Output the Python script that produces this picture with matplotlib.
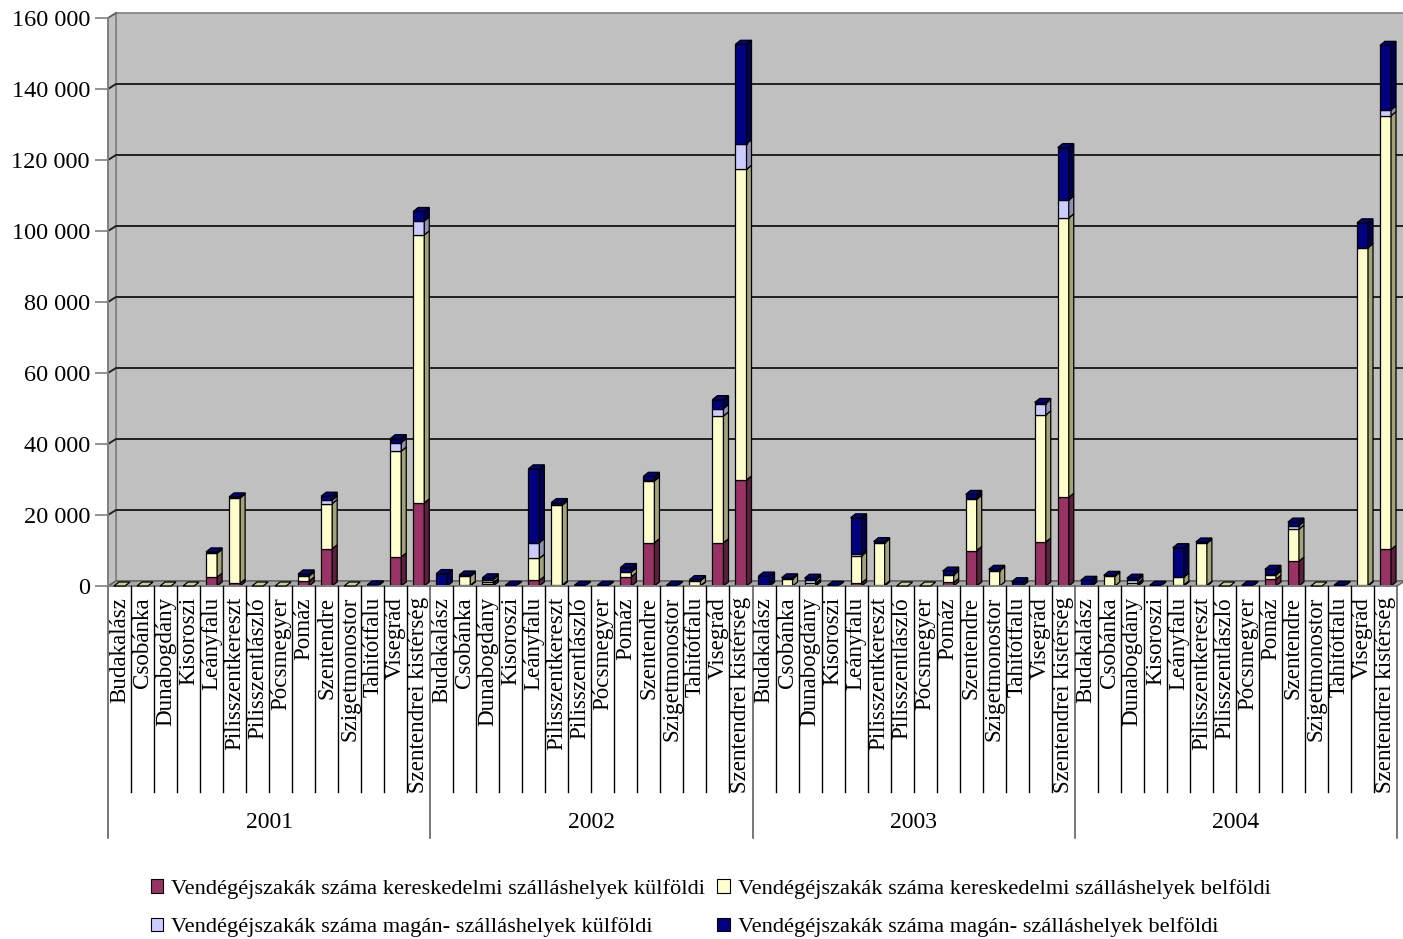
import matplotlib
matplotlib.use('Agg')
import matplotlib.pyplot as plt
from matplotlib.patches import Polygon, Rectangle, Patch
import numpy as np

plt.rcParams['font.family'] = ['Liberation Serif', 'DejaVu Serif']

years = ['2001', '2002', '2003', '2004']
places = ['Budakalász', 'Csobánka', 'Dunabogdány', 'Kisoroszi', 'Leányfalu',
          'Pilisszentkereszt', 'Pilisszentlászló', 'Pócsmegyer', 'Pomáz',
          'Szentendre', 'Szigetmonostor', 'Tahitótfalu', 'Visegrád',
          'Szentendrei kistérség']

# vendégéjszakák, évenként 14 település
ker_kulf = [
    [0, 0, 0, 0, 2500, 800, 0, 0, 1400, 10500, 0, 0, 8200, 23400],
    [0, 200, 700, 0, 1600, 300, 0, 0, 2600, 12200, 0, 100, 12200, 29900],
    [100, 0, 300, 0, 900, 300, 0, 0, 1000, 10000, 0, 0, 12400, 25000],
    [100, 0, 400, 0, 300, 200, 0, 0, 1900, 7000, 0, 0, 200, 10300],
]
ker_belf = [
    [0, 0, 0, 0, 6700, 24000, 0, 0, 1400, 12700, 0, 0, 29800, 75500],
    [0, 2500, 300, 0, 6200, 22500, 0, 0, 1400, 17400, 0, 1400, 35700, 87500],
    [0, 2000, 500, 0, 7600, 11800, 0, 0, 2100, 14400, 4300, 0, 35800, 78700],
    [0, 2700, 400, 0, 2200, 11800, 0, 0, 1200, 9000, 0, 0, 95100, 122200],
]
magan_kulf = [
    [0, 0, 0, 0, 0, 0, 0, 0, 0, 1000, 0, 0, 2400, 3900],
    [0, 0, 800, 0, 4400, 0, 0, 0, 0, 300, 0, 0, 2100, 7200],
    [300, 0, 800, 0, 400, 0, 0, 0, 0, 400, 0, 0, 3200, 5000],
    [0, 0, 800, 0, 0, 0, 0, 0, 300, 1000, 0, 0, 0, 1600],
]
magan_belf = [
    [0, 0, 0, 0, 400, 300, 0, 0, 600, 1100, 0, 300, 1100, 2700],
    [3500, 400, 500, 200, 20800, 700, 200, 200, 1200, 1000, 200, 300, 2500, 28000],
    [2400, 300, 600, 200, 10300, 400, 0, 0, 1100, 1000, 400, 1200, 300, 14800],
    [1500, 300, 600, 200, 8300, 400, 0, 200, 1300, 1000, 0, 200, 7000, 18200],
]

series_names = ['Vendégéjszakák száma kereskedelmi szálláshelyek külföldi',
                'Vendégéjszakák száma kereskedelmi szálláshelyek belföldi',
                'Vendégéjszakák száma magán- szálláshelyek külföldi',
                'Vendégéjszakák száma magán- szálláshelyek belföldi']
front_colors = ['#993366', '#FFFFCC', '#CCCCFF', '#000080']
side_colors = ['#5c1f3d', '#a3a37a', '#9090b0', '#000050']

W, H = 1403, 939
fig = plt.figure(figsize=(W / 100, H / 100), dpi=100)
# front plane of the 3D box, in pixels
x_left, x_right, y_top, y_bot = 108, 1397, 18, 586
ax = fig.add_axes([x_left / W, 1 - y_bot / H, (x_right - x_left) / W, (y_bot - y_top) / H])
ax.set_facecolor('none')

n = len(years) * len(places)
ymax = 160000
ax.set_xlim(0, n)
ax.set_ylim(0, ymax)

px_x = n / (x_right - x_left)
px_y = ymax / (y_bot - y_top)
Dx, Dy = 8 * px_x, 5 * px_y      # wall depth
dx, dy = 5 * px_x, 4 * px_y      # bar depth

wall_c = '#c0c0c0'
ax.add_patch(Rectangle((Dx, Dy), n, ymax, facecolor=wall_c, edgecolor='#808080',
                       lw=1.2, clip_on=False, zorder=0))
ax.add_patch(Polygon([(0, 0), (0, ymax), (Dx, ymax + Dy), (Dx, Dy)], closed=True,
                     facecolor=wall_c, edgecolor='#808080', lw=1.2, clip_on=False, zorder=0))
ax.add_patch(Polygon([(0, 0), (n, 0), (n + Dx, Dy), (Dx, Dy)], closed=True,
                     facecolor='#a8a8a8', edgecolor='#606060', lw=1.0, clip_on=False, zorder=0.5))

yticks = np.arange(0, ymax + 1, 20000)
for t in yticks[1:-1]:
    ax.plot([0, Dx, n + Dx], [t, t + Dy, t + Dy], color='#202020', lw=1.4,
            clip_on=False, zorder=0.6)
ax.plot([0, Dx], [ymax, ymax + Dy], color='#606060', lw=1.2, clip_on=False, zorder=0.6)

data = [ker_kulf, ker_belf, magan_kulf, magan_belf]
bw = 0.48
for yi in range(len(years)):
    for pi in range(len(places)):
        k = yi * len(places) + pi
        xc = k + 0.5
        x0, x1 = xc - bw / 2, xc + bw / 2
        bottom = 0
        top_color = '#cccc99'
        for si in range(4):
            v = data[si][yi][pi]
            if v <= 0:
                continue
            ax.bar(xc, v, bottom=bottom, width=bw, color=front_colors[si],
                   edgecolor='black', lw=0.9, zorder=2)
            ax.add_patch(Polygon([(x1, bottom), (x1, bottom + v), (x1 + dx, bottom + v + dy),
                                  (x1 + dx, bottom + dy)], closed=True,
                                 facecolor=side_colors[si], edgecolor='black', lw=0.9, zorder=2))
            bottom += v
            top_color = front_colors[si]
        ax.add_patch(Polygon([(x0, bottom), (x1, bottom), (x1 + dx, bottom + dy),
                              (x0 + dx, bottom + dy)], closed=True,
                             facecolor=top_color, edgecolor='black', lw=0.9, zorder=2.5,
                             clip_on=False))

ax.set_yticks(yticks)
ax.set_yticklabels([f'{int(t):,}'.replace(',', ' ') for t in yticks], fontsize=17.5)
ax.tick_params(axis='y', length=9.5, width=1.2, color='#808080', pad=3.5)
ax.set_xticks([])
for s in ['top', 'right', 'bottom']:
    ax.spines[s].set_visible(False)
ax.spines['left'].set_color('#808080')
ax.spines['left'].set_linewidth(1.4)

# category table under the plot
tr = ax.get_xaxis_transform()
h = y_bot - y_top
ax.plot([0, n], [0, 0], color='#808080', lw=1.4, transform=tr, clip_on=False)
y_cat = -(792 - y_bot) / h
y_grp = -(838 - y_bot) / h
for k in range(1, n):
    if k % len(places) == 0:
        continue
    ax.plot([k, k], [0, y_cat], color='black', lw=1.0, transform=tr, clip_on=False)
for g in range(len(years) + 1):
    xg = g * len(places)
    ax.plot([xg, xg], [0, y_grp], color='#606060', lw=1.2, transform=tr, clip_on=False)
for yi, yr in enumerate(years):
    for pi, name in enumerate(places):
        k = yi * len(places) + pi
        ax.text(k + 0.5, -(597 - y_bot) / h, name, rotation=90, ha='center', va='top',
                fontsize=16.6, transform=tr)
    ax.text((yi + 0.5) * len(places), -(822 - y_bot) / h, yr, ha='center', va='center',
            fontsize=17, transform=tr)

handles = [Patch(facecolor=front_colors[i], edgecolor='black', lw=0.8) for i in [0, 2, 1, 3]]
labels = [series_names[i] for i in [0, 2, 1, 3]]
fig.legend(handles, labels, ncol=2, loc='upper left', bbox_to_anchor=(151 / W, 1 - 879 / H),
           frameon=False, fontsize=16.1, handlelength=0.55, handleheight=0.55,
           handletextpad=0.35, columnspacing=0.55, labelspacing=0.82, borderpad=0,
           borderaxespad=0)

fig.savefig('out.png', dpi=100)
